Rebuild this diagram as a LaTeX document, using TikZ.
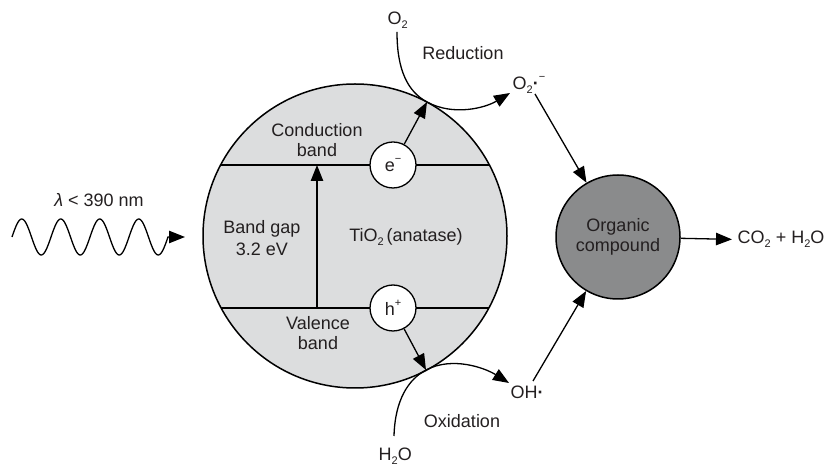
\documentclass[tikz,border=0pt]{standalone}
\usepackage{fontspec}
\setmainfont{Liberation Sans}
\usetikzlibrary{arrows.meta}
\definecolor{txt}{HTML}{231F20}
\definecolor{tiofill}{HTML}{DCDDDE}
\definecolor{orgfill}{HTML}{8A8B8C}
\newcommand{\mysub}[1]{\raisebox{-0.35ex}{\fontsize{5.5}{5.5}\selectfont #1}}
\newcommand{\mysup}[1]{\raisebox{0.95ex}{\fontsize{5.5}{5.5}\selectfont #1}}
\begin{document}
\begin{tikzpicture}[x=0.5pt,y=-0.5pt,
  font=\fontsize{9}{10}\selectfont, text=txt,
  line width=0.65pt,
  arr/.style={-{Triangle[length=8pt,width=6.2pt]}},
  lbl/.style={inner sep=0pt},
  two/.style={align=center, inner sep=0pt},
  particle/.style={circle, draw, fill=white, minimum size=23pt, inner sep=0pt}]
\useasboundingbox (0,0) rectangle (825,464);
% TiO2 particle
\node[circle, draw, fill=tiofill, minimum size=152pt, inner sep=0pt, line width=0.75pt] (tio) at (355,236) {};
\begin{scope}
  \clip (355,236) circle[radius=152];
  \draw (200,165) -- (510,165);
  \draw (200,308) -- (510,308);
\end{scope}
\coordinate (vb) at (317,308);
\coordinate (cb) at (317,165);
\draw[arr] (vb) -- (cb);
\node[particle] (e) at (393,165) {e\mysup{−}};
\node[particle] (h) at (393,308) {h\mysup{+}};
\coordinate (cr) at (427,102);
\coordinate (co) at (426,370);
\draw[arr] (e) -- (cr);
\draw[arr] (h) -- (co);
\node[two] (cband) at (317,140.5) {Conduction\\band};
\node[two] (gap) at (262,238.5) {Band gap\\[1pt]3.2 eV};
\node[two] (vband) at (318,333.5) {Valence\\band};
\node[lbl, anchor=base] (tiolbl) at (406,242) {TiO\mysub{2}\,(anatase)};
% organic compound
\node[circle, draw, fill=orgfill, minimum size=62pt, inner sep=0pt, align=center, line width=0.75pt] (org) at (618,237) {Organic\\compound};
\node[lbl, anchor=base west] (co2) at (737,244) {CO\mysub{2} + H\mysub{2}O};
\draw[arr] (org) -- ([xshift=-2.5pt]co2.west);
% reduction
\node[lbl, anchor=base west] (o2) at (387,25) {O\mysub{2}};
\node[lbl, anchor=base] (red) at (463,60) {Reduction};
\node[lbl, anchor=base west] (o2r) at (512,90) {O\mysub{2}\textbf{·}\mysup{−}};
\coordinate (o2out) at (397,32);
\coordinate (o2rin) at (510,93);
\draw[arr] (o2out) .. controls (397,70) and (407.6,91.5) .. (cr) .. controls (453.4,116.3) and (485,108) .. (o2rin);
\coordinate (o2rout) at (535,94);
\draw[arr] (o2rout) -- (org);
% oxidation
\node[lbl, anchor=base west] (h2o) at (378,461) {H\mysub{2}O};
\node[lbl, anchor=base] (ox) at (462,428) {Oxidation};
\node[lbl, anchor=base west] (oh) at (510,399) {OH\textbf{·}};
\coordinate (h2oout) at (394,436);
\coordinate (ohin) at (509,383);
\draw[arr] (h2oout) .. controls (395,400) and (408.3,379.4) .. (co) .. controls (452.5,356) and (485,368) .. (ohin);
\coordinate (ohout) at (533,381);
\draw[arr] (ohout) -- (org);
% light wave
\node[lbl, anchor=base] (lam) at (99,207) {{\itshape λ} < 390 nm};
\coordinate (wend) at (185,237);
\draw[arr] plot[domain=12:168, samples=160, smooth] (\x,{237-18*sin((\x-12)*9.230769)}) -- (wend);
\end{tikzpicture}
\end{document}
